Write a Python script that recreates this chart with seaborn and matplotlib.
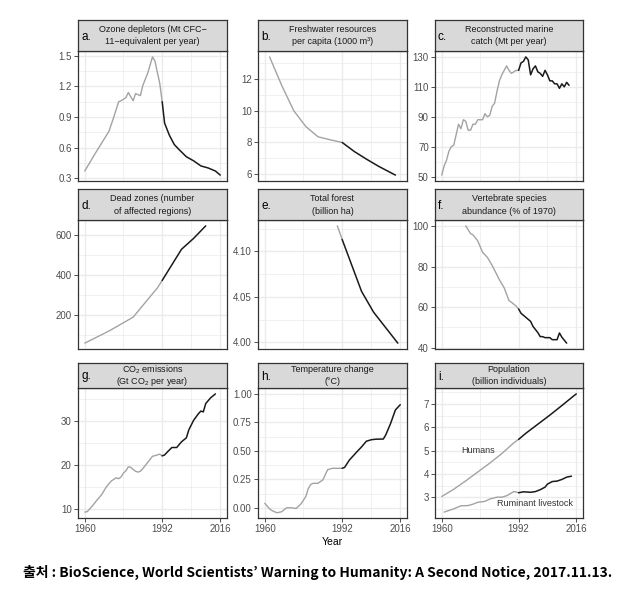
import matplotlib
matplotlib.use("Agg")
import matplotlib.pyplot as plt
from matplotlib.ticker import FixedLocator, MultipleLocator
import seaborn as sns

sns.set_theme(style="white")
plt.rcParams["font.family"] = ["Liberation Sans", "Noto Sans CJK KR", "DejaVu Sans"]
plt.rcParams["mathtext.fontset"] = "custom"
plt.rcParams["mathtext.rm"] = "Liberation Sans"
plt.rcParams["mathtext.default"] = "regular"

SPLIT_YEAR = 1992
X_BREAKS = [1960, 1992, 2016]
X_MINOR = [1976, 2004]

# a. ozone depletors
ozone_years = [1960, 1964, 1970, 1972, 1974, 1975, 1977, 1978, 1980, 1981, 1983, 1984,
               1986, 1988, 1989, 1991, 1992, 1993, 1995, 1997, 1999, 2002, 2005, 2008,
               2011, 2014, 2016]
ozone_values = [0.37, 0.53, 0.76, 0.90, 1.05, 1.06, 1.09, 1.14, 1.06, 1.13, 1.11, 1.21,
                1.33, 1.49, 1.45, 1.23, 1.05, 0.84, 0.72, 0.63, 0.58, 0.51, 0.47, 0.42,
                0.40, 0.37, 0.33]
ozone_ticks = [0.3, 0.6, 0.9, 1.2, 1.5]
ozone_labels = ["0.3", "0.6", "0.9", "1.2", "1.5"]

# b. freshwater per capita
fresh_years = [1962, 1967, 1972, 1977, 1982, 1987, 1992, 1997, 2002, 2007, 2012, 2014]
fresh_values = [13.4, 11.6, 10.0, 9.0, 8.36, 8.17, 8.0, 7.43, 6.95, 6.5, 6.1, 5.94]
fresh_ticks = [6, 8, 10, 12]
fresh_labels = ["6", "8", "10", "12"]

# c. marine catch
catch_years = list(range(1960, 2014))
catch_values = [51, 57, 61, 67, 70, 71, 78, 85, 82, 88, 87, 81, 81, 85, 85, 88, 88, 88,
                92, 90, 91, 97, 99, 107, 114, 118, 121, 124, 121, 119, 120, 121, 121, 126,
                127, 130, 128, 118, 122, 124, 120, 119, 117, 121, 118, 114, 114, 112, 112,
                109, 112, 110, 113, 111]
catch_ticks = [50, 70, 90, 110, 130]
catch_labels = ["50", "70", "90", "110", "130"]

# d. dead zones
dead_years = [1960, 1970, 1980, 1990, 1992, 2000, 2005, 2010]
dead_values = [57, 118, 188, 335, 373, 530, 585, 648]
dead_ticks = [200, 400, 600]
dead_labels = ["200", "400", "600"]

# e. total forest
forest_years = [1990, 1992, 2000, 2005, 2010, 2015]
forest_values = [4.128, 4.113, 4.056, 4.033, 4.016, 3.999]
forest_ticks = [4.00, 4.05, 4.10]
forest_labels = ["4.00", "4.05", "4.10"]

# f. vertebrate abundance
vert_years = [1970, 1972, 1973, 1975, 1977, 1979, 1981, 1984, 1986, 1988, 1989, 1991,
              1992, 1993, 1995, 1997, 1998, 2000, 2001, 2002, 2003, 2005, 2006, 2008,
              2009, 2010, 2012]
vert_values = [100, 96.2, 95.6, 92.6, 87, 84.5, 80.5, 73.5, 69.5, 63.2, 62.4, 60.5,
               59.1, 57, 55, 53, 50.5, 47.5, 45.5, 45.5, 45, 45, 44, 44, 47.3, 45.2, 42.3]
vert_ticks = [40, 60, 80, 100]
vert_labels = ["40", "60", "80", "100"]

# g. CO2 emissions
co2_years = [1960, 1961, 1963, 1965, 1967, 1969, 1971, 1973, 1974, 1975, 1976, 1977,
             1978, 1979, 1980, 1981, 1982, 1983, 1984, 1986, 1988, 1990, 1991, 1992,
             1993, 1994, 1996, 1998, 2000, 2002, 2003, 2005, 2007, 2008, 2009, 2010,
             2012, 2014]
co2_values = [9.3, 9.4, 10.6, 12.0, 13.3, 15.1, 16.4, 17.1, 16.9, 17.3, 18.2, 18.7,
              19.6, 19.5, 19.0, 18.6, 18.4, 18.6, 19.2, 20.6, 22.0, 22.3, 22.5, 22.1,
              22.3, 22.9, 24.0, 24.0, 25.3, 26.2, 28.0, 30.2, 31.7, 32.3, 32.1, 34.0,
              35.3, 36.2]
co2_ticks = [10, 20, 30]
co2_labels = ["10", "20", "30"]

# h. temperature change
temp_years = [1960, 1962, 1963, 1965, 1967, 1969, 1971, 1973, 1975, 1977, 1978, 1979,
              1980, 1982, 1984, 1985, 1986, 1988, 1992, 1993, 1995, 1998, 2000, 2002,
              2004, 2006, 2009, 2010, 2012, 2014, 2016]
temp_values = [0.04, -0.01, -0.025, -0.044, -0.035, 0.0, 0.0, -0.006, 0.035, 0.10, 0.17,
               0.205, 0.215, 0.215, 0.245, 0.29, 0.335, 0.347, 0.347, 0.355, 0.42, 0.49,
               0.535, 0.585, 0.598, 0.603, 0.604, 0.64, 0.74, 0.86, 0.906]
temp_ticks = [0.00, 0.25, 0.50, 0.75, 1.00]
temp_labels = ["0.00", "0.25", "0.50", "0.75", "1.00"]
temp_ylim = (-0.09, 1.053)

# i. population
human_years = [1960, 1965, 1970, 1975, 1980, 1985, 1990, 1992, 1995, 2000, 2005, 2010,
               2015, 2016]
human_values = [3.03, 3.34, 3.70, 4.08, 4.46, 4.87, 5.33, 5.48, 5.74, 6.13, 6.52, 6.93,
                7.35, 7.43]
rumin_years = [1961, 1965, 1968, 1971, 1973, 1975, 1978, 1980, 1983, 1985, 1987, 1990,
               1991, 1992, 1994, 1997, 1999, 2001, 2003, 2004, 2006, 2008, 2010, 2012,
               2014]
rumin_values = [2.36, 2.5, 2.63, 2.64, 2.7, 2.78, 2.82, 2.92, 3.0, 3.0, 3.06, 3.24,
                3.22, 3.19, 3.23, 3.21, 3.24, 3.32, 3.43, 3.56, 3.67, 3.69, 3.76, 3.86,
                3.9]
pop_ticks = [3, 4, 5, 6, 7]
pop_labels = ["3", "4", "5", "6", "7"]

panels = [
    ("a.", "Ozone depletors (Mt CFC\u2212\n11\u2212equivalent per year)",
     [(ozone_years, ozone_values)], ozone_ticks, ozone_labels, None),
    ("b.", "Freshwater resources\nper capita (1000 m\u00b3)",
     [(fresh_years, fresh_values)], fresh_ticks, fresh_labels, None),
    ("c.", "Reconstructed marine\ncatch (Mt per year)",
     [(catch_years, catch_values)], catch_ticks, catch_labels, None),
    ("d.", "Dead zones (number\nof affected regions)",
     [(dead_years, dead_values)], dead_ticks, dead_labels, None),
    ("e.", "Total forest\n(billion ha)",
     [(forest_years, forest_values)], forest_ticks, forest_labels, None),
    ("f.", "Vertebrate species\nabundance (% of 1970)",
     [(vert_years, vert_values)], vert_ticks, vert_labels, None),
    ("g.", "CO$_2$ emissions\n(Gt CO$_2$ per year)",
     [(co2_years, co2_values)], co2_ticks, co2_labels, None),
    ("h.", "Temperature change\n(\u00b0C)",
     [(temp_years, temp_values)], temp_ticks, temp_labels, temp_ylim),
    ("i.", "Population\n(billion individuals)",
     [(human_years, human_values), (rumin_years, rumin_values)], pop_ticks, pop_labels, None),
]

W, H = 640, 591
COLS = [(78, 227), (258, 407), (435, 583)]
ROWS = [(20, 51, 181), (189, 220, 349), (363, 388, 518)]
GREY = "#a3a3a3"
DARK = "#1a1a1a"
BORDER = "#333333"
GRID = "#ebebeb"


def rect(x0, y0, x1, y1):
    return [x0 / W, 1 - y1 / H, (x1 - x0) / W, (y1 - y0) / H]


fig = plt.figure(figsize=(W / 100, H / 100), dpi=100)
fig.patch.set_facecolor("white")

x_pad = 0.05 * (X_BREAKS[-1] - X_BREAKS[0])

for idx, (letter, title, series, yticks, ylabels, ylim) in enumerate(panels):
    r, c = divmod(idx, 3)
    x0, x1 = COLS[c]
    s0, p0, p1 = ROWS[r]

    ax = fig.add_axes(rect(x0, p0, x1, p1))
    ax.set_facecolor("white")
    all_vals = []
    for years, vals in series:
        pre = [(y, v) for y, v in zip(years, vals) if y <= SPLIT_YEAR]
        post = [(y, v) for y, v in zip(years, vals) if y >= SPLIT_YEAR]
        if len(pre) > 1:
            sns.lineplot(x=[p[0] for p in pre], y=[p[1] for p in pre], ax=ax,
                         color=GREY, linewidth=1.0, zorder=3)
        if len(post) > 1:
            sns.lineplot(x=[p[0] for p in post], y=[p[1] for p in post], ax=ax,
                         color=DARK, linewidth=1.1, zorder=4)
        all_vals += list(vals)

    if ylim is None:
        lo, hi = min(all_vals), max(all_vals)
        pad = 0.05 * (hi - lo)
        ylim = (lo - pad, hi + pad)
    ax.set_ylim(*ylim)
    ax.set_xlim(X_BREAKS[0] - x_pad, X_BREAKS[-1] + x_pad)

    ax.yaxis.set_major_locator(FixedLocator(yticks))
    ax.set_yticklabels(ylabels)
    ax.yaxis.set_minor_locator(MultipleLocator((yticks[1] - yticks[0]) / 2))
    ax.xaxis.set_major_locator(FixedLocator(X_BREAKS))
    ax.xaxis.set_minor_locator(FixedLocator(X_MINOR))
    ax.grid(True, which="major", color=GRID, linewidth=1.0, zorder=0)
    ax.grid(True, which="minor", color=GRID, linewidth=0.5, zorder=0)
    ax.set_axisbelow(True)
    ax.set_xlabel("")
    ax.set_ylabel("")

    ax.tick_params(axis="y", which="major", length=3, width=0.6, color=BORDER,
                   labelcolor="#4d4d4d", labelsize=7, pad=1.5, left=True)
    ax.tick_params(axis="both", which="minor", length=0)
    if r == 2:
        ax.set_xticklabels([str(v) for v in X_BREAKS])
        ax.tick_params(axis="x", which="major", length=3, width=0.6, color=BORDER,
                       labelcolor="#4d4d4d", labelsize=7, pad=1.5, bottom=True)
    else:
        ax.tick_params(axis="x", which="major", length=0, labelbottom=False)
    for sp in ax.spines.values():
        sp.set_color(BORDER)
        sp.set_linewidth(0.9)

    # strip
    sax = fig.add_axes(rect(x0, s0, x1, p0))
    sax.set_facecolor("#d9d9d9")
    sax.set_xticks([])
    sax.set_yticks([])
    sax.set_xlim(0, x1 - x0)
    sax.set_ylim(p0 - s0, 0)
    for sp in sax.spines.values():
        sp.set_color(BORDER)
        sp.set_linewidth(0.9)
    mid = (p0 - s0) / 2
    line1, line2 = title.split("\n")
    sax.text((x1 - x0) / 2, mid - 6, line1, ha="center", va="center",
             fontsize=6.5, color="#1a1a1a")
    sax.text((x1 - x0) / 2, mid + 6.5, line2, ha="center", va="center",
             fontsize=6.5, color="#1a1a1a")
    sax.text(3, mid + 1, letter, ha="left", va="center", fontsize=8.5, color="black")

    if letter == "i.":
        ax.text(1975, 5.0, "Humans", ha="center", va="center", fontsize=6.5,
                color="#333333")
        ax.text(1999, 2.71, "Ruminant livestock", ha="center", va="center",
                fontsize=6.5, color="#333333")

fig.text(332 / W, 1 - 542 / H, "Year", ha="center", va="center", fontsize=7.5,
         color="black")
fig.text(318 / W, 1 - 572 / H,
         "출처 : BioScience, World Scientists\u2019 Warning to Humanity: A Second Notice, 2017.11.13.",
         ha="center", va="center", fontsize=10, fontweight="bold",
         family=["Noto Sans CJK KR", "DejaVu Sans"], color="black")

fig.savefig("out.png", dpi=100, facecolor="white")
